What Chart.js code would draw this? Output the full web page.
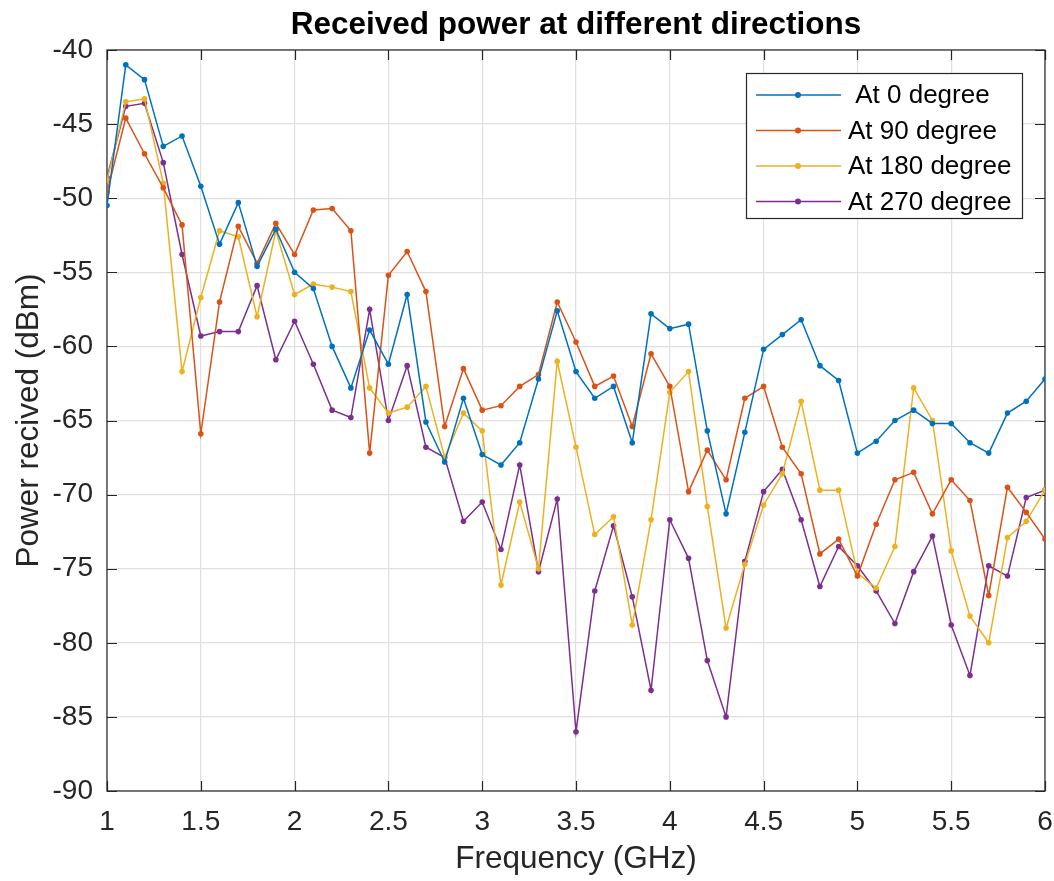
<!DOCTYPE html>
<html>
<head>
<meta charset="utf-8">
<script src="https://cdn.jsdelivr.net/npm/chart.js@4/dist/chart.umd.min.js"></script>
<style>
  body { margin: 0; background: #fff; }
  canvas { display: block; }
</style>
</head>
<body>
<canvas id="myChart" width="1054" height="881"></canvas>
<script>
// frequency points (GHz)
const freqs = [1.0, 1.1, 1.2, 1.3, 1.4, 1.5, 1.6, 1.7, 1.8, 1.9,
    2.0, 2.1, 2.2, 2.3, 2.4, 2.5, 2.6, 2.7, 2.8, 2.9,
    3.0, 3.1, 3.2, 3.3, 3.4, 3.5, 3.6, 3.7, 3.8, 3.9,
    4.0, 4.1, 4.2, 4.3, 4.4, 4.5, 4.6, 4.7, 4.8, 4.9,
    5.0, 5.1, 5.2, 5.3, 5.4, 5.5, 5.6, 5.7, 5.8, 5.9, 6.0];

const deg0 = [-50.5, -41, -42, -46.5, -45.8, -49.2, -53.1, -50.3, -54.6, -52.1,
    -55, -56.1, -60, -62.8, -58.9, -61.2, -56.5, -65.1, -67.8, -63.5,
    -67.3, -68, -66.5, -62.2, -57.6, -61.7, -63.5, -62.7, -66.5, -57.8,
    -58.8, -58.5, -65.7, -71.3, -65.8, -60.2, -59.2, -58.2, -61.3, -62.3,
    -67.2, -66.4, -65, -64.3, -65.2, -65.2, -66.5, -67.2, -64.5, -63.7, -62.2];

const deg90 = [-49.6, -44.6, -47, -49.3, -51.8, -65.9, -57, -51.9, -54.4, -51.7,
    -53.8, -50.8, -50.7, -52.2, -67.2, -55.2, -53.6, -56.3, -65.4, -61.5,
    -64.3, -64, -62.7, -61.9, -57, -59.7, -62.7, -62, -65.4, -60.5,
    -62.7, -69.8, -67, -69, -63.5, -62.7, -66.8, -68.6, -74, -73,
    -75.5, -72, -69, -68.5, -71.3, -69, -70.4, -76.8, -69.5, -71.2, -73];

const deg180 = [-48.8, -43.5, -43.3, -49, -61.7, -56.7, -52.2, -52.6, -58, -52.2,
    -56.5, -55.8, -56, -56.3, -62.8, -64.5, -64.1, -62.7, -67.5, -64.5,
    -65.7, -76.1, -70.5, -75, -61, -66.8, -72.7, -71.5, -78.8, -71.7,
    -63.1, -61.7, -70.8, -79, -74.7, -70.7, -68.6, -63.7, -69.7, -69.7,
    -75.3, -76.3, -73.5, -62.8, -65, -73.8, -78.2, -80, -72.9, -71.8, -69.7];

const deg270 = [-48.6, -43.8, -43.6, -47.6, -53.8, -59.3, -59, -59, -55.9, -60.9,
    -58.3, -61.2, -64.3, -64.8, -57.5, -65, -61.3, -66.8, -67.5, -71.8,
    -70.5, -73.7, -68, -75.2, -70.3, -86, -76.5, -72.1, -76.9, -83.2,
    -71.7, -74.3, -81.2, -85, -74.5, -69.8, -68.3, -71.7, -76.2, -73.5,
    -74.8, -76.5, -78.7, -75.2, -72.8, -78.8, -82.2, -74.8, -75.5, -70.2, -69.7];

const seriesNames = [' At 0 degree', 'At 90 degree', 'At 180 degree', 'At 270 degree'];
const seriesColors = ['#0072BD', '#D95319', '#EDB120', '#7E2F8E'];
const seriesValues = [deg0, deg90, deg180, deg270];

const axisColor = '#262626';
const fontFamily = 'Arial, "Liberation Sans", Helvetica, sans-serif';

function toPoints(values) {
    return freqs.map((f, i) => ({x: f, y: values[i]}));
}

// box round the axes with inward ticks, like MATLAB
const boxPlugin = {
    id: 'boxPlugin',
    beforeDatasetsDraw(chart) {
        const {ctx, chartArea: a, scales} = chart;
        ctx.save();
        ctx.strokeStyle = axisColor;
        ctx.lineWidth = 1.2;
        ctx.beginPath();
        scales.x.ticks.forEach(t => {
            const px = Math.round(scales.x.getPixelForValue(t.value)) + 0.5;
            ctx.moveTo(px, a.bottom); ctx.lineTo(px, a.bottom - 10);
            ctx.moveTo(px, a.top); ctx.lineTo(px, a.top + 10);
        });
        scales.y.ticks.forEach(t => {
            const py = Math.round(scales.y.getPixelForValue(t.value)) + 0.5;
            ctx.moveTo(a.left, py); ctx.lineTo(a.left + 10, py);
            ctx.moveTo(a.right, py); ctx.lineTo(a.right - 10, py);
        });
        ctx.stroke();
        ctx.strokeRect(a.left, a.top, a.right - a.left, a.bottom - a.top);
        ctx.restore();
    }
};

// legend drawn inside the axes (north east)
const insideLegend = {
    id: 'insideLegend',
    afterDraw(chart) {
        const ctx = chart.ctx;
        const bx = 746, by = 73, bw = 276, bh = 145;
        ctx.save();
        ctx.fillStyle = '#fff';
        ctx.fillRect(bx, by, bw, bh);
        ctx.strokeStyle = axisColor;
        ctx.lineWidth = 1.2;
        ctx.strokeRect(bx + 0.5, by + 0.5, bw, bh);
        ctx.font = '26px ' + fontFamily;
        ctx.textBaseline = 'middle';
        chart.data.datasets.forEach((ds, i) => {
            const y = by + 22 + i * 35.5;
            ctx.strokeStyle = ds.borderColor;
            ctx.lineWidth = 1.5;
            ctx.beginPath();
            ctx.moveTo(bx + 10, y); ctx.lineTo(bx + 95, y);
            ctx.stroke();
            ctx.fillStyle = ds.borderColor;
            ctx.beginPath();
            ctx.arc(bx + 52, y, 3, 0, Math.PI * 2);
            ctx.fill();
            ctx.fillStyle = '#000';
            ctx.fillText(ds.label, bx + 102, y + 1);
        });
        ctx.restore();
    }
};

const ctx = document.getElementById('myChart');
const myChart = new Chart(ctx, {
    type: 'line',
    data: {
        datasets: seriesValues.map((vals, i) => ({
            label: seriesNames[i],
            data: toPoints(vals),
            borderColor: seriesColors[i],
            backgroundColor: seriesColors[i],
            borderWidth: 1.5,
            pointRadius: 2.8,
            pointBorderWidth: 0,
            tension: 0,
            fill: false
        }))
    },
    options: {
        responsive: false,
        animation: false,
        devicePixelRatio: 1,
        layout: {
            padding: {left: 0, right: 9, top: 0, bottom: 0}
        },
        plugins: {
            legend: {
                display: false,
            },
            tooltip: {
                enabled: false
            },
            title: {
                display: true,
                fullSize: false,
                text: 'Received power at different directions',
                color: '#000',
                font: {family: fontFamily, size: 31.5, weight: 'bold'},
                padding: {top: 6, bottom: 6.2}
            }
        },
        scales: {
            x: {
                type: 'linear',
                min: 1,
                max: 6,
                afterFit(scale) {
                    scale.height = 90;
                    scale.paddingRight = 0;
                    scale.paddingLeft = 0;
                },
                ticks: {
                    stepSize: 0.5,
                    color: axisColor,
                    padding: 14,
                    maxRotation: 0,
                    callback: v => String(v),
                    font: {family: fontFamily, size: 28}
                },
                grid: {
                    color: '#e0e0e0',
                    lineWidth: 1.2,
                    drawTicks: false
                },
                border: {display: false},
                title: {
                    display: true,
                    text: 'Frequency (GHz)',
                    color: axisColor,
                    font: {family: fontFamily, size: 31.5},
                    padding: {top: 0, bottom: 3}
                }
            },
            y: {
                min: -90,
                max: -40,
                afterFit(scale) { scale.width = 107; },
                ticks: {
                    stepSize: 5,
                    color: axisColor,
                    padding: 14,
                    font: {family: fontFamily, size: 28}
                },
                grid: {
                    color: '#e0e0e0',
                    lineWidth: 1.2,
                    drawTicks: false
                },
                border: {display: false},
                title: {
                    display: true,
                    text: 'Power recived (dBm)',
                    color: axisColor,
                    font: {family: fontFamily, size: 31.5},
                    padding: {top: 10, bottom: 0}
                }
            }
        }
    },
    plugins: [boxPlugin, insideLegend]
});
</script>
</body>
</html>
